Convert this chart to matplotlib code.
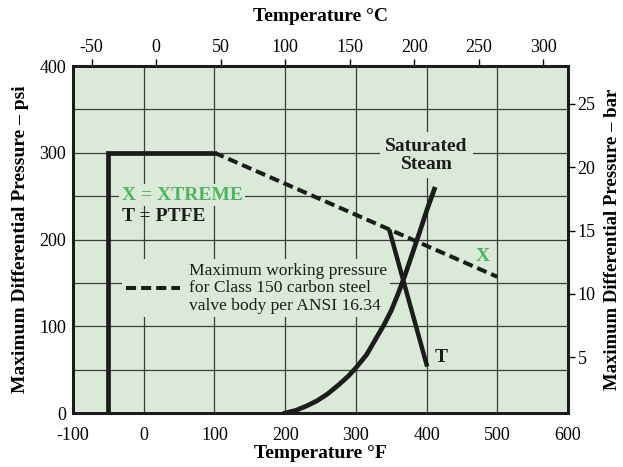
import matplotlib
matplotlib.use("Agg")
import matplotlib.pyplot as plt

# ---- data ----
f_ticks = [-100, 0, 100, 200, 300, 400, 500, 600]
psi_ticks = [0, 100, 200, 300, 400]
c_ticks = [-50, 0, 50, 100, 150, 200, 250, 300]
bar_ticks = [5, 10, 15, 20, 25]

limit_F = [-50, -50, 100]
limit_psi = [0, 300, 300]

flange_F = [100, 500]
flange_psi = [300, 157]

ptfe_F = [348, 400]
ptfe_psi = [209, 56]

steam_F = [200, 215, 230, 245, 260, 275, 290, 300, 315, 330, 340, 350, 360, 370, 380, 390, 400, 411]
steam_psi = [0, 3, 8, 14, 22, 32, 43, 52, 67, 88, 102, 118, 138, 160, 184, 208, 233, 258]

legend_text = "Maximum working pressure\nfor Class 150 carbon steel\nvalve body per ANSI 16.34"

# ---- style ----
BG = "#dae9d8"
GREEN = "#4db560"
INK = "#1c1c1c"
FONT = "Liberation Serif"
plt.rcParams["font.family"] = [FONT, "DejaVu Serif"]

fig = plt.figure(figsize=(6.23, 4.67), dpi=100)
ax = fig.add_axes([73 / 623, 1 - 413 / 467, 495 / 623, 347 / 467])
ax.set_facecolor(BG)

ax.set_xlim(-100, 600)
ax.set_ylim(0, 400)
ax.set_xticks(f_ticks)
ax.set_xticklabels([str(v) for v in f_ticks])
ax.set_yticks(list(range(0, 401, 50)))
ax.set_yticklabels([str(v) if v % 100 == 0 else "" for v in range(0, 401, 50)])
ax.tick_params(axis="both", length=0, labelsize=13)
ax.tick_params(axis="x", pad=10)
ax.tick_params(axis="y", pad=5)
ax.grid(True, color="#3c3c3c", linewidth=0.9)
ax.set_axisbelow(True)
for s in ax.spines.values():
    s.set_linewidth(2.2)
    s.set_color(INK)

ax.set_xlabel("Temperature °F", fontsize=14, fontweight="bold", labelpad=1)
ax.set_ylabel("Maximum Differential Pressure – psi", fontsize=14, fontweight="bold", labelpad=7)

ax.plot(limit_F, limit_psi, color=INK, lw=3.4, solid_joinstyle="miter", zorder=5)
ax.plot(flange_F, flange_psi, color=INK, lw=2.9, linestyle=(0, (2.5, 1.25)),
        dash_capstyle="butt", zorder=5, label=legend_text)
ax.plot(ptfe_F, ptfe_psi, color=INK, lw=3.2, zorder=5)
ax.plot(steam_F, steam_psi, color=INK, lw=3.4, zorder=5, solid_joinstyle="round")

box = dict(facecolor=BG, edgecolor="none", pad=2)
ax.text(-31, 251, "X = XTREME", color=GREEN, fontsize=14, fontweight="bold",
        va="center", ha="left", bbox=box, zorder=3)
ax.text(-31, 227, "T = PTFE", color=INK, fontsize=14, fontweight="bold",
        va="center", ha="left", zorder=3)
ax.text(400, 297, "Saturated\nSteam", color=INK, fontsize=14, fontweight="bold",
        va="center", ha="center", linespacing=1.05,
        bbox=dict(facecolor=BG, edgecolor="none", pad=4), zorder=3)
ax.text(479, 180, "X", color=GREEN, fontsize=14, fontweight="bold", va="center", ha="center", zorder=3)
ax.text(420, 64, "T", color=INK, fontsize=14, fontweight="bold", va="center", ha="center", zorder=3)

leg = ax.legend(loc="center left", bbox_to_anchor=(0.099, 0.36), fontsize=12.6,
                handlelength=3.1, handletextpad=0.5, borderpad=0.2, borderaxespad=0,
                frameon=True, fancybox=False, labelspacing=0.2)
leg.get_frame().set_facecolor(BG)
leg.get_frame().set_edgecolor("none")
leg.get_frame().set_alpha(1)
leg.set_zorder(3)
for t in leg.get_texts():
    t.set_linespacing(1.12)
    t.set_color(INK)

# top axis: °C
axT = ax.twiny()
axT.set_xlim(-64.5, 319.2)
axT.set_xticks(c_ticks)
axT.set_xticklabels([str(v) for v in c_ticks])
axT.tick_params(axis="x", direction="out", length=5, width=1, labelsize=13, pad=2)
axT.set_xlabel("Temperature °C", fontsize=14, fontweight="bold", labelpad=13)
for s in axT.spines.values():
    s.set_visible(False)

# right axis: bar
axR = ax.twinx()
axR.set_ylim(0.59, 28.0)
axR.set_yticks(bar_ticks)
axR.set_yticklabels([str(v) for v in bar_ticks])
axR.tick_params(axis="y", direction="out", length=5, width=1, labelsize=13, pad=2)
axR.set_ylabel("Maximum Differential Pressure – bar", fontsize=13.5, fontweight="bold",
               rotation=90, labelpad=6)
for s in axR.spines.values():
    s.set_visible(False)

fig.savefig("out.png", dpi=100)
